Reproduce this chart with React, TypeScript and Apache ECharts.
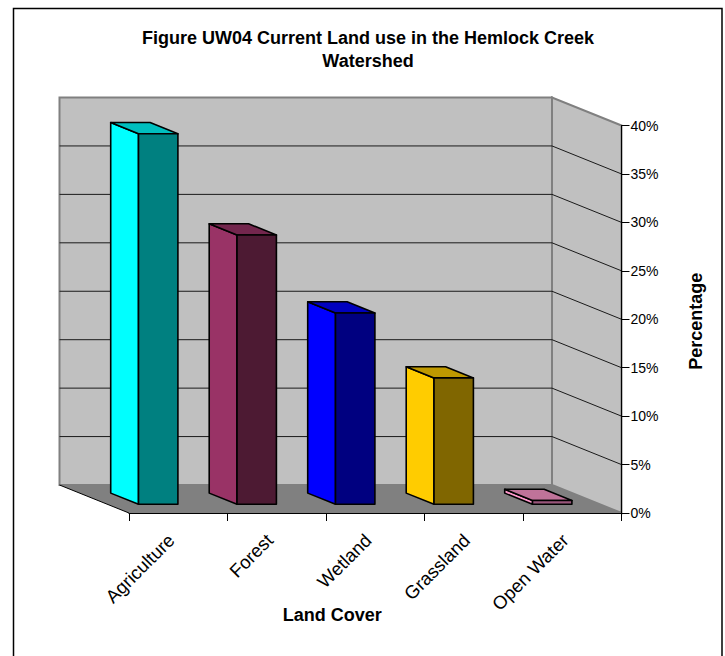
import React, { useEffect, useRef } from "react";
import * as echarts from "echarts";

// Land cover shares, in percent of the watershed area
const categories = ["Agriculture", "Forest", "Wetland", "Grassland", "Open Water"];
const shares = [38.25, 27.8, 19.75, 13.05, 0.4];
const percentTicks = [0, 5, 10, 15, 20, 25, 30, 35, 40];

// [lit side, shaded front, top] for each bar
const barShades = [
  ["#00FFFF", "#008080", "#00BFBF"],
  ["#993366", "#4D1A33", "#73264D"],
  ["#0000FF", "#000080", "#0000BF"],
  ["#FFCC00", "#806600", "#BF9900"],
  ["#FF99CC", "#99557A", "#BF7399"],
];

// Oblique projection of the chart box: a point at depth d moves by d * (DX, DY)
const DX = -69.5;
const DY = -28;
const BAR_FRONT = 0.31;
const BAR_BACK = 0.71;
const BAR_WIDTH = 0.4;

const FONT = '"Liberation Sans", Arial, sans-serif';

function wallsRenderItem(params: any, api: any) {
  const { x, y, width, height } = params.coordSys;
  const x0 = x;
  const x1 = x + width;
  const y0 = y + height;
  const y1 = y;
  const edge = { stroke: "#808080", lineWidth: 2 };
  const children: any[] = [
    {
      type: "polygon",
      shape: { points: [[x0 + DX, y0 + DY], [x0 + DX, y1 + DY], [x1 + DX, y1 + DY], [x1 + DX, y0 + DY]] },
      style: { fill: "#C0C0C0", stroke: "#808080", lineWidth: 2 },
    },
    {
      type: "polygon",
      shape: { points: [[x1 + DX, y0 + DY], [x1 + DX, y1 + DY], [x1, y1], [x1, y0]] },
      style: { fill: "#C0C0C0", stroke: "#808080", lineWidth: 2 },
    },
    {
      type: "polygon",
      shape: { points: [[x0 + DX, y0 + DY], [x1 + DX, y0 + DY], [x1, y0], [x0, y0]] },
      style: { fill: "#808080" },
    },
    {
      type: "line",
      shape: { x1: x0 + DX, y1: y0 + DY, x2: x0, y2: y0 },
      style: { stroke: "#000", lineWidth: 1 },
    },
    {
      type: "line",
      shape: { x1: x1 + DX, y1: y1 + DY, x2: x1 + DX, y2: y0 + DY },
      style: edge,
    },
  ];
  percentTicks.slice(1, -1).forEach((t) => {
    const py = api.coord([0, t])[1];
    children.push({
      type: "polyline",
      shape: { points: [[x0 + DX, py + DY], [x1 + DX, py + DY], [x1, py]] },
      style: { stroke: "#1a1a1a", lineWidth: 1, fill: "none" },
    });
  });
  return { type: "group", children };
}

function barRenderItem(params: any, api: any) {
  const idx = api.value(0);
  const base = api.coord([idx, 0]);
  const top = api.coord([idx, api.value(1)]);
  const w = api.size([1, 0])[0] * BAR_WIDTH;
  const shade = barShades[params.dataIndex];
  const at = (x: number, y: number, d: number) => [x + d * DX, y + d * DY];
  const l = base[0] - w / 2 + 1.5;
  const r = base[0] + w / 2 + 1.5;
  const yb = base[1];
  const yt = top[1];
  const style = { stroke: "#000", lineWidth: 1.6, lineJoin: "round" };
  return {
    type: "group",
    children: [
      {
        type: "polygon",
        shape: { points: [at(l, yb, BAR_FRONT), at(l, yb, BAR_BACK), at(l, yt, BAR_BACK), at(l, yt, BAR_FRONT)] },
        style: { ...style, fill: shade[0] },
      },
      {
        type: "polygon",
        shape: { points: [at(l, yt, BAR_FRONT), at(l, yt, BAR_BACK), at(r, yt, BAR_BACK), at(r, yt, BAR_FRONT)] },
        style: { ...style, fill: shade[2] },
      },
      {
        type: "polygon",
        shape: { points: [at(l, yb, BAR_FRONT), at(l, yt, BAR_FRONT), at(r, yt, BAR_FRONT), at(r, yb, BAR_FRONT)] },
        style: { ...style, fill: shade[1] },
      },
    ],
  };
}

export default function App() {
  const ref = useRef<HTMLDivElement>(null);

  useEffect(() => {
    const chart = echarts.init(ref.current!, null, { renderer: "svg" });
    chart.setOption({
      animation: false,
      backgroundColor: "#fff",
      title: {
        text: "Figure UW04 Current Land use in the Hemlock Creek\nWatershed",
        left: 363,
        top: 21,
        textAlign: "center",
        textStyle: { fontFamily: FONT, fontSize: 18, fontWeight: "bold", color: "#000", lineHeight: 23.5 },
      },
      grid: { left: 129, top: 125.5, width: 492.5, height: 387.5 },
      xAxis: {
        type: "category",
        data: categories,
        z: 5,
        name: "Land Cover",
        nameLocation: "middle",
        nameGap: 93,
        nameMoveOverlap: false,
        nameTextStyle: { fontFamily: FONT, fontSize: 18, fontWeight: "bold", color: "#000", padding: [0, 86, 0, 0] },
        axisLine: { show: true, lineStyle: { color: "#000", width: 1 } },
        axisTick: { show: true, length: 8, alignWithLabel: false, lineStyle: { color: "#000" } },
        axisLabel: { rotate: 45, interval: 0, fontFamily: FONT, fontSize: 18.5, color: "#000", margin: 17, padding: [0, 10, 0, 0] },
      },
      yAxis: {
        type: "value",
        position: "right",
        min: 0,
        max: 40,
        interval: 5,
        z: 5,
        name: "Percentage",
        nameLocation: "middle",
        nameGap: 65,
        nameMoveOverlap: false,
        nameRotate: 90,
        nameTextStyle: { fontFamily: FONT, fontSize: 18, fontWeight: "bold", color: "#000", padding: [0, 4, 0, 0] },
        axisLine: { show: true, lineStyle: { color: "#000", width: 1 } },
        axisTick: { show: true, length: 8, lineStyle: { color: "#000" } },
        splitLine: { show: false },
        axisLabel: { fontFamily: FONT, fontSize: 14, color: "#000", margin: 9, formatter: "{value}%" },
      },
      series: [
        {
          type: "custom",
          z: 1,
          silent: true,
          clip: false,
          data: [[0, 0]],
          renderItem: wallsRenderItem,
        },
        {
          type: "custom",
          z: 3,
          clip: false,
          encode: { x: 0, y: 1 },
          data: shares.map((v, i) => [i, v]),
          renderItem: barRenderItem,
        },
      ],
      graphic: [
        {
          type: "polyline",
          z: 10,
          shape: { points: [[13.5, 660], [13.5, 8.5], [722, 8.5], [722, 660]] },
          style: { stroke: "#000", lineWidth: 1.5, fill: "none" },
        },
      ],
    });
    return () => chart.dispose();
  }, []);

  return <div ref={ref} style={{ position: "fixed", left: 0, top: 0, width: 725, height: 656 }} />;
}
